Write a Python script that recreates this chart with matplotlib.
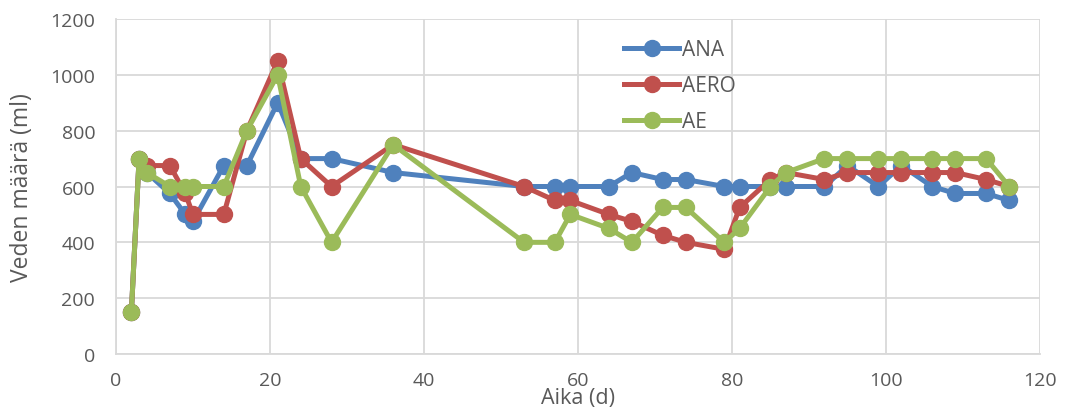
import matplotlib
matplotlib.use("Agg")
import matplotlib.pyplot as plt

days = [2, 3, 4, 7, 9, 10, 14, 17, 21, 24, 28, 36, 53, 57, 59, 64, 67, 71, 74, 79, 81, 85, 87, 92, 95, 99, 102, 106, 109, 113, 116]
ana = [150, 700, 650, 575, 500, 475, 675, 675, 900, 700, 700, 650, 600, 600, 600, 600, 650, 625, 625, 600, 600, 600, 600, 600, 675, 600, 675, 600, 575, 575, 550]
aero = [150, 700, 675, 675, 575, 500, 500, 800, 1050, 700, 600, 750, 600, 550, 550, 500, 475, 425, 400, 375, 525, 625, 650, 625, 650, 650, 650, 650, 650, 625, 600]
ae = [150, 700, 650, 600, 600, 600, 600, 800, 1000, 600, 400, 750, 400, 400, 500, 450, 400, 525, 525, 400, 450, 600, 650, 700, 700, 700, 700, 700, 700, 700, 600]
series_names = ["ANA", "AERO", "AE"]
colors = ["#4F81BD", "#C0504D", "#9BBB59"]

plt.rcParams['font.family'] = ['Open Sans', 'DejaVu Sans']
fig = plt.figure(figsize=(10.66, 4.14), dpi=100)
ax = fig.add_axes([0.1088, 0.1425, 0.8668, 0.8092])

for vals, name, c in zip([ana, aero, ae], series_names, colors):
    ax.plot(days, vals, color=c, lw=3.6, marker='o', markersize=11.5, label=name,
            solid_joinstyle='round')

ax.set_xlim(0, 120)
ax.set_ylim(0, 1200)
ax.set_xticks(range(0, 121, 20))
ax.set_yticks(range(0, 1201, 200))
ax.grid(True, color='#D9D9D9', lw=1.3)
ax.set_axisbelow(True)
for s in ['top', 'right']:
    ax.spines[s].set_visible(False)
for s in ['left', 'bottom']:
    ax.spines[s].set_color('#D9D9D9')
    ax.spines[s].set_linewidth(1.3)
ax.tick_params(length=0, labelsize=14, colors='#595959')
ax.tick_params(axis='y', pad=15)
ax.tick_params(axis='x', pad=12)
ax.set_ylabel("Veden määrä (ml)", fontsize=16.5, color='#595959', labelpad=12)
ax.set_xlabel("Aika (d)", fontsize=15.5, color='#595959', labelpad=-1)

leg = ax.legend(loc='upper left', bbox_to_anchor=(0.53, 0.995), frameon=False,
                fontsize=15, labelspacing=0.72, handlelength=2.6, handletextpad=0.15,
                labelcolor='#595959')

fig.savefig("out.png", dpi=100)
